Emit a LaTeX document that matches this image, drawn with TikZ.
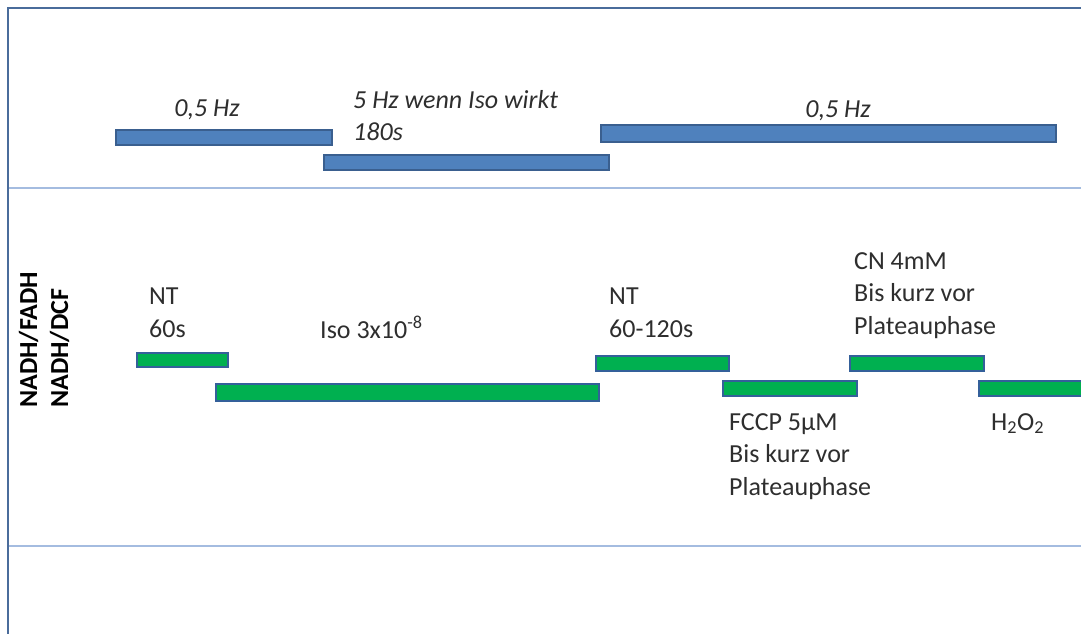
\documentclass[tikz,border=0pt]{standalone}
\usepackage{fontspec}
\setmainfont{Carlito}
\definecolor{framecol}{HTML}{4A6C9B}
\definecolor{lightline}{HTML}{A4BCE0}
\definecolor{bluefill}{HTML}{4F81BD}
\definecolor{bluebd}{HTML}{3A5F8F}
\definecolor{greenfill}{HTML}{00B050}
\definecolor{greenbd}{HTML}{34609A}
\definecolor{txtcol}{HTML}{2E2E2E}
\begin{document}
\begin{tikzpicture}[x=1pt,y=-1pt,
  txt/.style={font=\fontsize{26}{32.5}\selectfont, text=txtcol, inner sep=0pt, anchor=base west, align=left},
  itxt/.style={txt, font=\fontsize{26}{32}\selectfont\itshape},
  btxt/.style={txt, font=\fontsize{26}{31}\selectfont\bfseries, text=black, rotate=90},
  bar/.style={line width=1.6pt, inner sep=0pt, outer sep=0pt, anchor=north west},
  bbar/.style={bar, draw=bluebd, fill=bluefill},
  gbar/.style={bar, draw=greenbd, fill=greenfill}]
\useasboundingbox (0,0) rectangle (1081,634);
% frame
\coordinate (tl) at (8,8);
\coordinate (tr) at (1090,8);
\coordinate (bl) at (8,640);
\coordinate (l1a) at (9,188);
\coordinate (l1b) at (1090,188);
\coordinate (l2a) at (9,546);
\coordinate (l2b) at (1090,546);
\draw[lightline, line width=2.4pt] (l1a) -- (l1b);
\draw[lightline, line width=2.4pt] (l2a) -- (l2b);
\draw[framecol, line width=2.2pt] (tr) -- (tl) -- (bl);
% blue bars
\node[bbar, minimum width=216pt, minimum height=15pt] (b1) at (116,130) {};
\node[bbar, minimum width=285pt, minimum height=15pt] (b2) at (324,155) {};
\node[bbar, minimum width=455pt, minimum height=17pt] (b3) at (601,125) {};
% blue labels
\node[itxt, anchor=base] (t1) at (207,116) {0,5 Hz};
\node[itxt] (t2) at (353,140) {5 Hz wenn Iso wirkt\\180s};
\node[itxt, anchor=base] (t3) at (838,117) {0,5 Hz};
% green bars
\node[gbar, minimum width=91pt, minimum height=14pt] (g1) at (137,353) {};
\node[gbar, minimum width=383pt, minimum height=17pt] (g2) at (216,384) {};
\node[gbar, minimum width=133pt, minimum height=15pt] (g3) at (596,356) {};
\node[gbar, minimum width=134pt, minimum height=15pt] (g4) at (723,381) {};
\node[gbar, minimum width=134pt, minimum height=15pt] (g5) at (850,356) {};
\node[gbar, minimum width=130pt, minimum height=15pt] (g6) at (979,381) {};
% green labels
\node[txt] (n1) at (149,337) {NT\\60s};
\node[txt] (n2) at (320,338) {Iso 3x10\textsuperscript{-8}};
\node[txt] (n3) at (609,337) {NT\\60-120s};
\node[txt] (n4) at (854,334) {CN 4mM\\Bis kurz vor\\Plateauphase};
\node[txt] (n5) at (729,495) {FCCP 5µM\\Bis kurz vor\\Plateauphase};
\node[txt] (n6) at (991,430) {H\textsubscript{2}O\textsubscript{2}};
% axis labels
\node[btxt] (y1) at (37,408) {NADH/FADH};
\node[btxt] (y2) at (68,408) {NADH/DCF};
\end{tikzpicture}
\end{document}
